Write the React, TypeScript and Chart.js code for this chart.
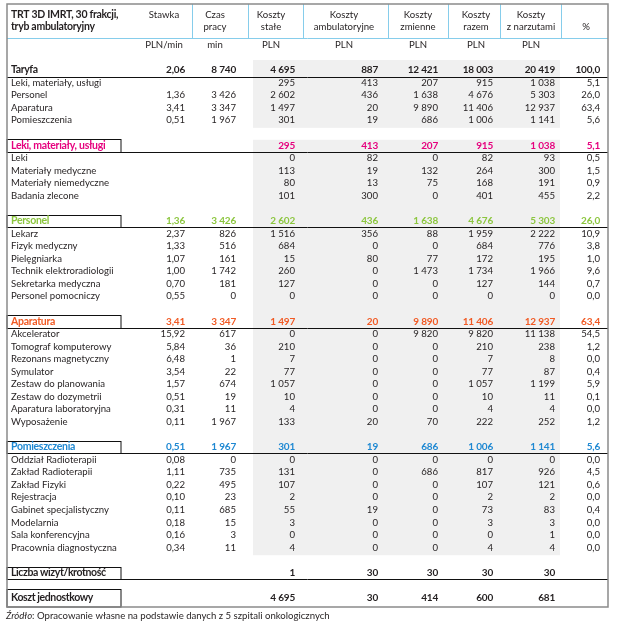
import React, { useEffect, useRef } from "react";
import { Chart, registerables } from "chart.js";

Chart.register(...registerables);

// ---------- DATA ----------
const titleLines = ["TRT 3D IMRT, 30 frakcji,", "tryb ambulatoryjny"];
const columnHeaders = [
  ["Stawka"],
  ["Czas", "pracy"],
  ["Koszty", "stałe"],
  ["Koszty", "ambulatoryjne"],
  ["Koszty", "zmienne"],
  ["Koszty", "razem"],
  ["Koszty", "z narzutami"],
  ["%"],
];
const unitLabels = ["PLN/min", "min", "PLN", "PLN", "PLN", "PLN", "PLN", ""];

const rowLabels = [
  "Taryfa",
  "Leki, materiały, usługi",
  "Personel",
  "Aparatura",
  "Pomieszczenia",
  "",
  "Leki, materiały, usługi",
  "Leki",
  "Materiały medyczne",
  "Materiały niemedyczne",
  "Badania zlecone",
  "",
  "Personel",
  "Lekarz",
  "Fizyk medyczny",
  "Pielęgniarka",
  "Technik elektroradiologii",
  "Sekretarka medyczna",
  "Personel pomocniczy",
  "",
  "Aparatura",
  "Akcelerator",
  "Tomograf komputerowy",
  "Rezonans magnetyczny",
  "Symulator",
  "Zestaw do planowania",
  "Zestaw do dozymetrii",
  "Aparatura laboratoryjna",
  "Wyposażenie",
  "",
  "Pomieszczenia",
  "Oddział Radioterapii",
  "Zakład Radioterapii",
  "Zakład Fizyki",
  "Rejestracja",
  "Gabinet specjalistyczny",
  "Modelarnia",
  "Sala konferencyjna",
  "Pracownia diagnostyczna",
  "",
  "Liczba wizyt/krotność",
  "",
  "Koszt jednostkowy",
];

// row kinds: T = total, I = item, B = blank, S0..S3 = section header, X = summary
const rowKinds = [
  "T", "I", "I", "I", "I", "B",
  "S0", "I", "I", "I", "I", "B",
  "S1", "I", "I", "I", "I", "I", "I", "B",
  "S2", "I", "I", "I", "I", "I", "I", "I", "I", "B",
  "S3", "I", "I", "I", "I", "I", "I", "I", "I", "B",
  "X", "B", "X",
];

const N = null;
const stawka = [
  2.06, N, 1.36, 3.41, 0.51, N,
  N, N, N, N, N, N,
  1.36, 2.37, 1.33, 1.07, 1.0, 0.7, 0.55, N,
  3.41, 15.92, 5.84, 6.48, 3.54, 1.57, 0.51, 0.31, 0.11, N,
  0.51, 0.08, 1.11, 0.22, 0.1, 0.11, 0.18, 0.16, 0.34, N,
  N, N, N,
];
const czasPracy = [
  8740, N, 3426, 3347, 1967, N,
  N, N, N, N, N, N,
  3426, 826, 516, 161, 1742, 181, 0, N,
  3347, 617, 36, 1, 22, 674, 19, 11, 1967, N,
  1967, 0, 735, 495, 23, 685, 15, 3, 11, N,
  N, N, N,
];
const kosztyStale = [
  4695, 295, 2602, 1497, 301, N,
  295, 0, 113, 80, 101, N,
  2602, 1516, 684, 15, 260, 127, 0, N,
  1497, 0, 210, 7, 77, 1057, 10, 4, 133, N,
  301, 0, 131, 107, 2, 55, 3, 0, 4, N,
  1, N, 4695,
];
const kosztyAmbulatoryjne = [
  887, 413, 436, 20, 19, N,
  413, 82, 19, 13, 300, N,
  436, 356, 0, 80, 0, 0, 0, N,
  20, 0, 0, 0, 0, 0, 0, 0, 20, N,
  19, 0, 0, 0, 0, 19, 0, 0, 0, N,
  30, N, 30,
];
const kosztyZmienne = [
  12421, 207, 1638, 9890, 686, N,
  207, 0, 132, 75, 0, N,
  1638, 88, 0, 77, 1473, 0, 0, N,
  9890, 9820, 0, 0, 0, 0, 0, 0, 70, N,
  686, 0, 686, 0, 0, 0, 0, 0, 0, N,
  30, N, 414,
];
const kosztyRazem = [
  18003, 915, 4676, 11406, 1006, N,
  915, 82, 264, 168, 401, N,
  4676, 1959, 684, 172, 1734, 127, 0, N,
  11406, 9820, 210, 7, 77, 1057, 10, 4, 222, N,
  1006, 0, 817, 107, 2, 73, 3, 0, 4, N,
  30, N, 600,
];
const kosztyZNarzutami = [
  20419, 1038, 5303, 12937, 1141, N,
  1038, 93, 300, 191, 455, N,
  5303, 2222, 776, 195, 1966, 144, 0, N,
  12937, 11138, 238, 8, 87, 1199, 11, 4, 252, N,
  1141, 0, 926, 121, 2, 83, 3, 1, 4, N,
  30, N, 681,
];
const udzial = [
  100.0, 5.1, 26.0, 63.4, 5.6, N,
  5.1, 0.5, 1.5, 0.9, 2.2, N,
  26.0, 10.9, 3.8, 1.0, 9.6, 0.7, 0.0, N,
  63.4, 54.5, 1.2, 0.0, 0.4, 5.9, 0.1, 0.0, 1.2, N,
  5.6, 0.0, 4.5, 0.6, 0.0, 0.4, 0.0, 0.0, 0.0, N,
  N, N, N,
];
const columnDecimals = [2, 0, 0, 0, 0, 0, 0, 1];
const sourceNote = ["Źródło", ": Opracowanie własne na podstawie danych z 5 szpitali onkologicznych"];

// ---------- LAYOUT / STYLE ----------
const W = 617;
const H = 624;
const ROW0_PX = 70;
const PITCH = 12.57;
const colRight = [185, 236, 295, 378, 438, 493, 555, 600];
const colCenter = [164, 215, 271, 344, 418, 476, 531, 586];
const headerSeparators = [192, 248, 303, 388, 448, 500, 561];
const shadeX = [253, 560];
const shadeRows: [number, number][] = [[-0.8, 4.6], [5.55, 38.6]];
const BORDER = { left: 7, right: 608, top: 4, bottom: 607 };
const labelBoxRight = 121;
const sectionColors = ["#E6007E", "#8CC63F", "#F15A24", "#1E88D2"];
const TEXT = "#231F20";
const FONT = "Lato, 'Noto Sans', sans-serif";
const REG = "9.6px";

const fmt = (v: number, dec: number) => {
  if (dec > 0) return v.toFixed(dec).replace(".", ",");
  const s = Math.round(v).toString();
  return s.replace(/\B(?=(\d{3})+(?!\d))/g, " ");
};

const columns = [stawka, czasPracy, kosztyStale, kosztyAmbulatoryjne, kosztyZmienne, kosztyRazem, kosztyZNarzutami, udzial];

const rowColor = (r: number) => {
  const k = rowKinds[r];
  if (k.startsWith("S")) return sectionColors[Number(k.slice(1))];
  return TEXT;
};
const rowBold = (r: number) => {
  const k = rowKinds[r];
  return k === "T" || k === "X" || k.startsWith("S");
};

const tablePlugin = {
  id: "tablePlugin",
  beforeDatasetsDraw(chart: any) {
    const ctx = chart.ctx as CanvasRenderingContext2D;
    const xs = chart.scales.x;
    const ys = chart.scales.y;
    const X = (v: number) => xs.getPixelForValue(v);
    const Y = (v: number) => ys.getPixelForValue(v);
    ctx.save();
    ctx.fillStyle = "#ffffff";
    ctx.fillRect(0, 0, chart.width, chart.height);
    // shading
    ctx.fillStyle = "#F0F0F0";
    for (const [a, b] of shadeRows) {
      ctx.fillRect(X(shadeX[0]), Y(a), X(shadeX[1]) - X(shadeX[0]), Y(b) - Y(a));
    }
    // header separators
    ctx.strokeStyle = "#86CDEB";
    ctx.lineWidth = 1;
    const headerBottom = 38;
    for (const s of headerSeparators) {
      ctx.beginPath();
      ctx.moveTo(Math.round(X(s)) + 0.5, BORDER.top);
      ctx.lineTo(Math.round(X(s)) + 0.5, headerBottom);
      ctx.stroke();
    }
    ctx.beginPath();
    ctx.moveTo(BORDER.left, headerBottom + 0.5);
    ctx.lineTo(BORDER.right, headerBottom + 0.5);
    ctx.stroke();

    // black rules and label boxes
    ctx.strokeStyle = "#111";
    ctx.lineWidth = 1;
    const hline = (y: number) => {
      const yy = Math.round(y) + 0.5;
      ctx.beginPath();
      ctx.moveTo(BORDER.left, yy);
      ctx.lineTo(BORDER.right, yy);
      ctx.stroke();
    };
    rowKinds.forEach((k, r) => {
      const yc = Y(r);
      if (k === "T") hline(yc + 6.8);
      if (k.startsWith("S") || (k === "X" && r < rowKinds.length - 1)) {
        const top = Math.round(yc - 6.3) + 0.5;
        const bot = Math.round(yc + 6.3) + 0.5;
        ctx.strokeRect(BORDER.left, top, labelBoxRight - BORDER.left, bot - top);
        hline(yc + 6.3);
      }
      if (k === "X" && r === rowKinds.length - 1) {
        const top = Math.round(yc - 8.5) + 0.5;
        ctx.strokeRect(BORDER.left, top, labelBoxRight - BORDER.left, BORDER.bottom - top);
      }
    });

    // outer border
    ctx.strokeStyle = "#8A8A8A";
    ctx.lineWidth = 1.5;
    ctx.strokeRect(BORDER.left, BORDER.top, BORDER.right - BORDER.left, BORDER.bottom - BORDER.top);
    ctx.restore();
  },
  afterDatasetsDraw(chart: any) {
    const ctx = chart.ctx as CanvasRenderingContext2D;
    const xs = chart.scales.x;
    const ys = chart.scales.y;
    const X = (v: number) => xs.getPixelForValue(v);
    const Y = (v: number) => ys.getPixelForValue(v);
    ctx.save();
    ctx.textBaseline = "middle";
    // title
    ctx.fillStyle = TEXT;
    ctx.textAlign = "left";
    ctx.font = `bold 10.5px ${FONT}`;
    (ctx as any).letterSpacing = "-0.3px";
    ctx.fillText(titleLines[0], 11, 15);
    ctx.fillText(titleLines[1], 11, 27);
    (ctx as any).letterSpacing = "0px";
    // column headers
    ctx.font = `${REG} ${FONT}`;
    ctx.textAlign = "center";
    columnHeaders.forEach((lines, c) => {
      const x = X(colCenter[c]);
      if (lines.length === 2) {
        ctx.fillText(lines[0], x, 15);
        ctx.fillText(lines[1], x, 27);
      } else if (lines[0] === "%") {
        ctx.fillText(lines[0], x, 27);
      } else {
        ctx.fillText(lines[0], x, 15);
      }
      if (unitLabels[c]) ctx.fillText(unitLabels[c], x, 45);
    });
    // row labels
    ctx.textAlign = "left";
    rowLabels.forEach((lab, r) => {
      if (!lab) return;
      ctx.fillStyle = rowColor(r);
      const k = rowKinds[r];
      if (rowBold(r)) {
        ctx.font = `bold 10.5px ${FONT}`;
        (ctx as any).letterSpacing = k.startsWith("S") ? "-0.3px" : "-0.4px";
      } else {
        ctx.font = `${REG} ${FONT}`;
        (ctx as any).letterSpacing = "0px";
      }
      ctx.fillText(lab, 11, Y(r));
    });
    (ctx as any).letterSpacing = "0px";
    // cell values via dataset elements
    const meta = chart.getDatasetMeta(0);
    const data = chart.data.datasets[0].data as any[];
    ctx.textAlign = "right";
    meta.data.forEach((el: any, i: number) => {
      const d = data[i];
      ctx.fillStyle = rowColor(d.row);
      ctx.font = rowBold(d.row) ? `bold 10px ${FONT}` : `${REG} ${FONT}`;
      (ctx as any).letterSpacing = rowBold(d.row) ? "-0.2px" : "0px";
      ctx.fillText(d.text, el.x, el.y);
    });
    (ctx as any).letterSpacing = "0px";
    // source note
    ctx.textAlign = "left";
    ctx.fillStyle = TEXT;
    ctx.font = `italic ${REG} ${FONT}`;
    ctx.fillText(sourceNote[0], 6, 616);
    const w = ctx.measureText(sourceNote[0]).width;
    ctx.font = `${REG} ${FONT}`;
    ctx.fillText(sourceNote[1], 6 + w, 616);
    ctx.restore();
  },
};

export default function App() {
  const ref = useRef<HTMLCanvasElement | null>(null);
  useEffect(() => {
    if (!ref.current) return;
    const cells: any[] = [];
    columns.forEach((col, c) => {
      col.forEach((v, r) => {
        if (v === null || v === undefined) return;
        cells.push({ x: colRight[c], y: r, row: r, col: c, text: fmt(v as number, columnDecimals[c]) });
      });
    });
    const yMin = -ROW0_PX / PITCH;
    const yMax = (H - ROW0_PX) / PITCH;
    const chart = new Chart(ref.current, {
      type: "scatter",
      data: {
        datasets: [
          {
            data: cells,
            pointRadius: 0,
            pointHoverRadius: 0,
            showLine: false,
          } as any,
        ],
      },
      options: {
        animation: false,
        responsive: false,
        events: [],
        layout: { padding: 0, autoPadding: false } as any,
        plugins: { legend: { display: false }, tooltip: { enabled: false } },
        scales: {
          x: { type: "linear", display: false, min: 0, max: W },
          y: { type: "linear", display: false, reverse: true, min: yMin, max: yMax },
        },
      },
      plugins: [tablePlugin],
    });
    return () => chart.destroy();
  }, []);
  return (
    <canvas
      ref={ref}
      width={W}
      height={H}
      style={{ position: "fixed", left: 0, top: 0, width: W, height: H, display: "block" }}
    />
  );
}
